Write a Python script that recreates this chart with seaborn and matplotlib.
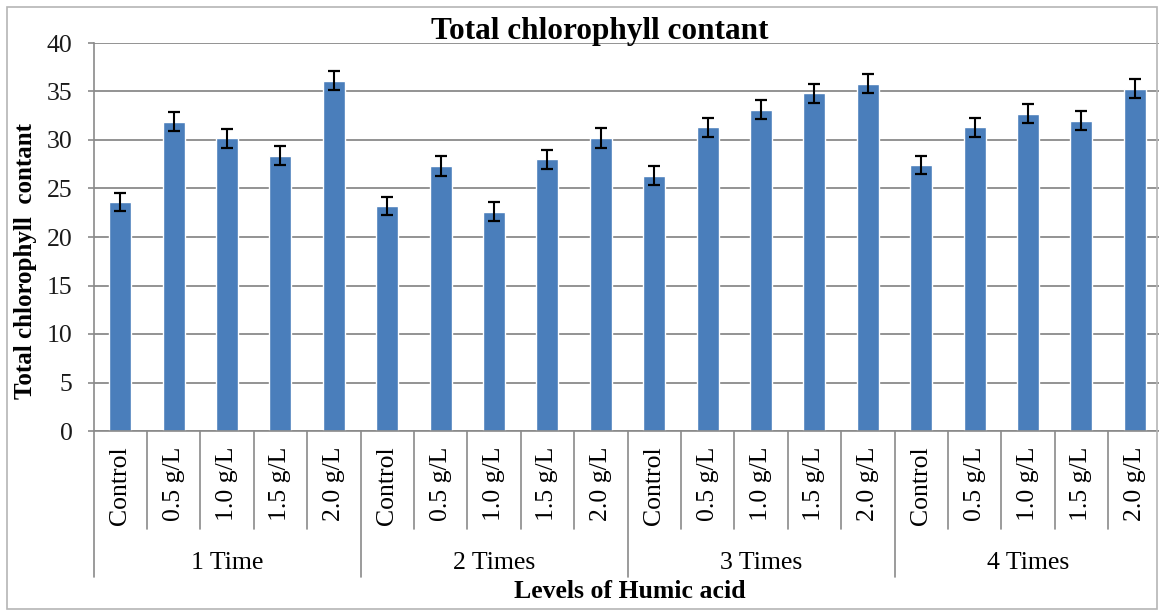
import numpy as np
import pandas as pd
import matplotlib
matplotlib.use("Agg")
import matplotlib.pyplot as plt
import seaborn as sns
from matplotlib.transforms import blended_transform_factory
from matplotlib.patches import Rectangle

# ---------------- data ----------------
groups = ["1 Time", "2 Times", "3 Times", "4 Times"]
doses = ["Control", "0.5 g/L", "1.0 g/L", "1.5 g/L", "2.0 g/L"]
values_1_time = [23.6, 31.9, 30.2, 28.4, 36.1]
values_2_times = [23.2, 27.3, 22.6, 28.0, 30.2]
values_3_times = [26.3, 31.3, 33.1, 34.8, 35.8]
values_4_times = [27.4, 31.3, 32.7, 32.0, 35.3]
errors_1_time = [0.95, 0.95, 0.98, 0.94, 0.98]
errors_2_times = [0.94, 1.0, 0.98, 0.98, 1.0]
errors_3_times = [0.98, 0.96, 0.98, 0.94, 1.0]
errors_4_times = [0.94, 0.98, 0.98, 0.98, 0.96]
y_ticks = [0, 5, 10, 15, 20, 25, 30, 35, 40]

all_values = [values_1_time, values_2_times, values_3_times, values_4_times]
all_errors = [errors_1_time, errors_2_times, errors_3_times, errors_4_times]
rows = []
for g, vals, errs in zip(groups, all_values, all_errors):
    for d, v, e in zip(doses, vals, errs):
        rows.append({"group": g, "dose": d, "value": v, "err": e, "key": f"{g}|{d}"})
df = pd.DataFrame(rows)

# ---------------- style ----------------
sns.set_theme(style="white")
plt.rcParams["font.family"] = ["Liberation Serif", "DejaVu Serif"]
plt.rcParams["text.color"] = "black"
plt.rcParams["axes.labelcolor"] = "black"
plt.rcParams["xtick.color"] = "black"
plt.rcParams["ytick.color"] = "black"

W, H = 1159, 612
fig = plt.figure(figsize=(W / 100, H / 100), dpi=100)
fig.patch.set_facecolor("white")

left_px, right_px, top_px, bottom_px = 93.5, 1161.5, 43, 431
ax_h = bottom_px - top_px
ax_w = right_px - left_px
ax = fig.add_axes([left_px / W, (H - bottom_px) / H, ax_w / W, ax_h / H])

bar_color = "#4A7EBB"
grey = "#8a8a8a"

sns.barplot(data=df, x="key", y="value", order=list(df["key"]), color=bar_color,
            saturation=1, width=0.41, errorbar=None, ax=ax, zorder=2)
xpos = np.arange(len(df))
ax.errorbar(xpos, df["value"], yerr=df["err"], fmt="none", ecolor="black",
            elinewidth=1.5, capsize=4, capthick=1.6, zorder=3)

ax.set_xlim(-0.5, len(df) - 0.5)
ax.set_ylim(0, 40)
ax.set_yticks(y_ticks)
ax.set_yticklabels([str(t) for t in y_ticks], fontsize=18.5, color="#1a1a1a")
ax.set_axisbelow(True)
ax.yaxis.grid(True, color=grey, lw=1.3)
ax.xaxis.grid(False)

for s in ["top", "right"]:
    ax.spines[s].set_visible(False)
for s in ["left", "bottom"]:
    ax.spines[s].set_color(grey)
    ax.spines[s].set_linewidth(1.2)

ax.tick_params(axis="y", length=4.5, color=grey, width=1.2, pad=10.5, left=True)
ax.set_xticks(xpos)
ax.set_xticklabels(df["dose"], rotation=90, fontsize=18.5, color="black")
ax.tick_params(axis="x", length=0, pad=11)

# separators below the axis
trans = blended_transform_factory(ax.transData, ax.transAxes)
short_y = -(529 - bottom_px) / ax_h
long_y = -(577 - bottom_px) / ax_h
n_d = len(doses)
for i in range(len(df) + 1):
    b = i - 0.5
    y1 = long_y if i % n_d == 0 else short_y
    ax.plot([b, b], [0, y1], transform=trans, color=grey, lw=1.2, clip_on=False)

for gi, g in enumerate(groups):
    ax.text(gi * n_d + (n_d - 1) / 2, -(563 - bottom_px) / ax_h, g, transform=trans,
            ha="center", va="center", fontsize=18.5, color="black")

ax.set_xlabel("Levels of Humic acid", fontsize=18.5, fontweight="bold", color="black")
ax.xaxis.set_label_coords((630 - left_px) / ax_w, -(592 - bottom_px) / ax_h)
ax.xaxis.label.set_va("center")

ax.set_ylabel("Total chlorophyll  contant", fontsize=18, fontweight="bold", color="black")
ax.yaxis.set_label_coords(-(left_px - 26) / ax_w, (bottom_px - 261) / ax_h)
ax.yaxis.label.set_va("center")

ax.set_title("Total chlorophyll contant", fontsize=22.5, fontweight="bold", color="black",
             x=(600 - left_px) / ax_w, y=(bottom_px - 38.5) / ax_h, pad=0)

fig.add_artist(Rectangle((7 / W, 3 / H), (1157 - 7) / W, (609 - 7) / H,
                         transform=fig.transFigure, fill=False,
                         edgecolor="#b5b5b5", lw=1.2))

fig.savefig("out.png", dpi=100)
